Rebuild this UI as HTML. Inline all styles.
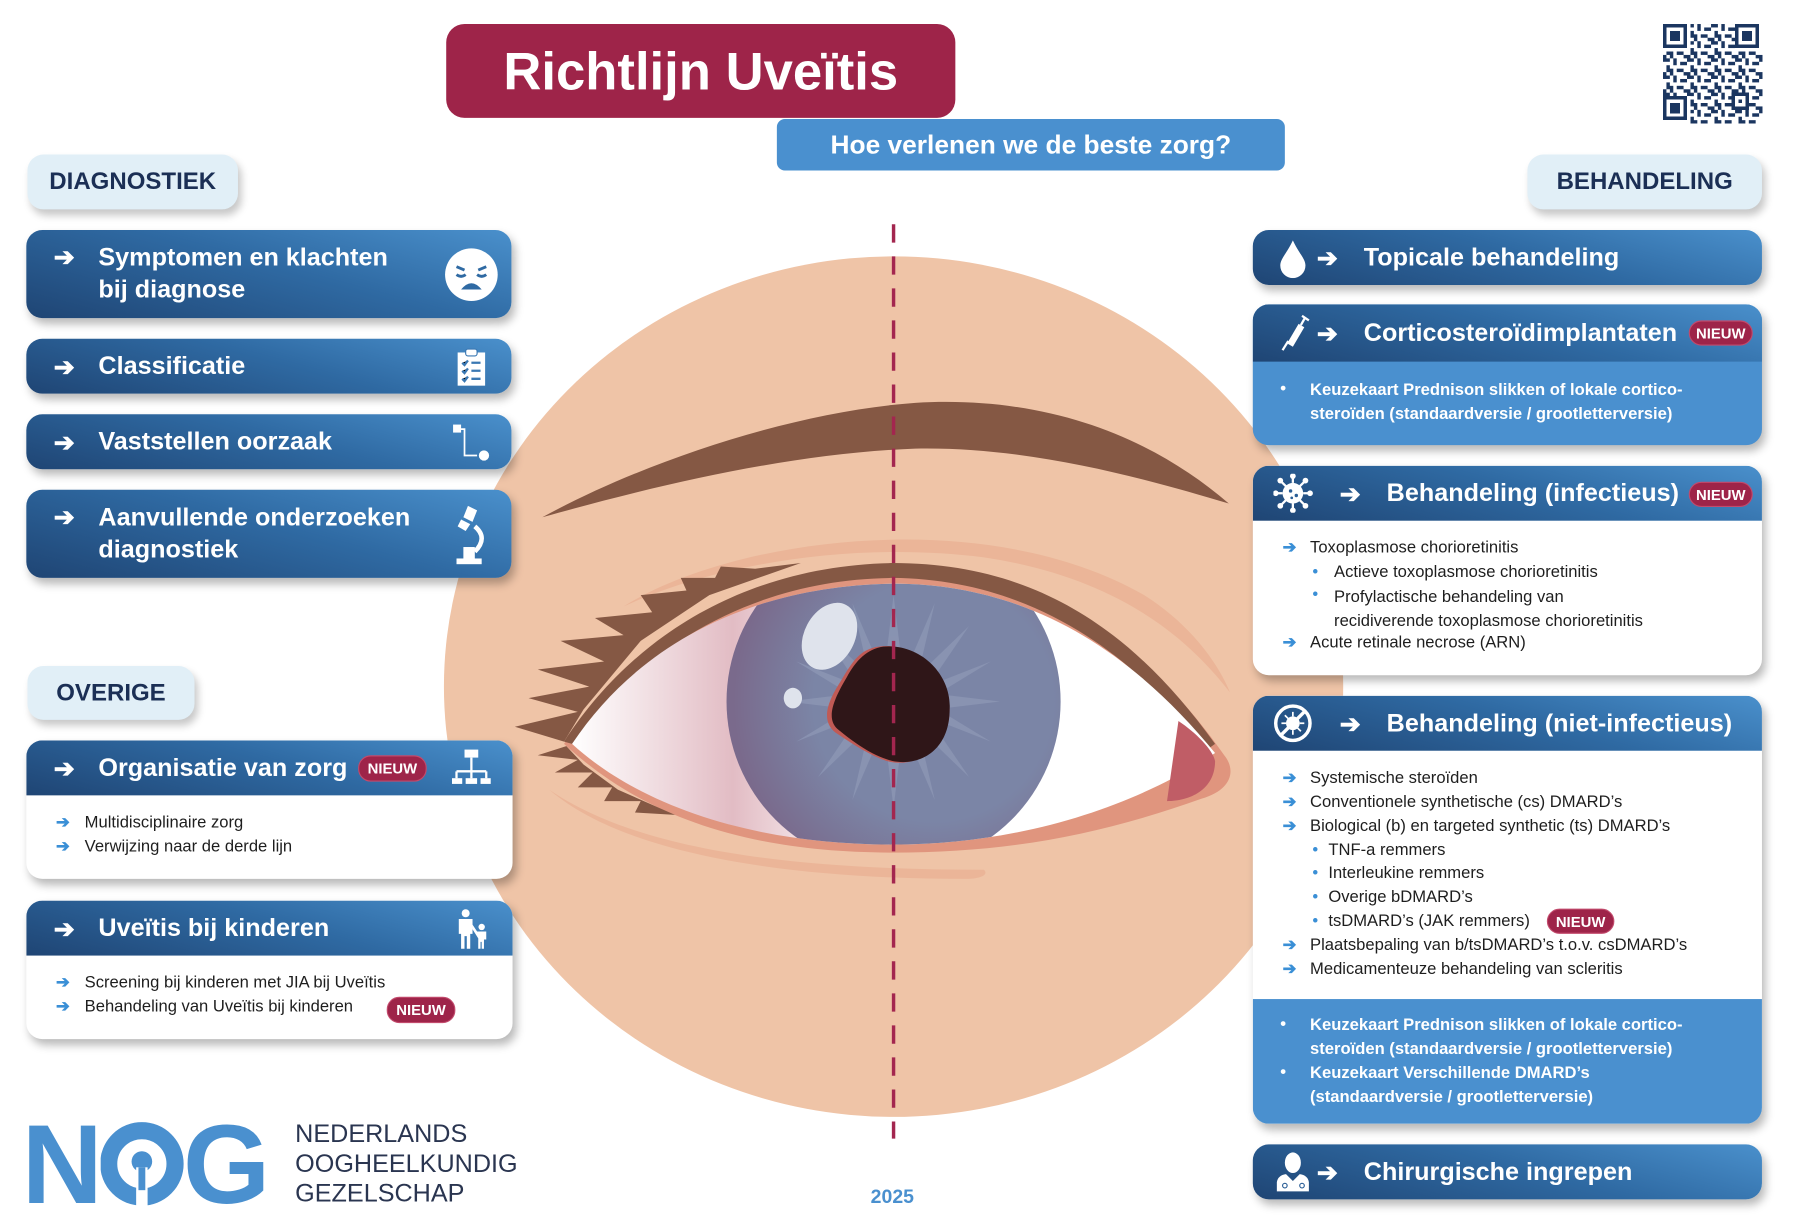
<!DOCTYPE html>
<html><head><meta charset="utf-8">
<style>
*{margin:0;padding:0;box-sizing:border-box}
html,body{width:1794px;height:1228px;overflow:hidden;background:#fff}
#w{position:absolute;left:0;top:0;width:1568px;height:1073px;transform:scale(1.14413,1.1444);transform-origin:0 0;font-family:"Liberation Sans",sans-serif}
.a{position:absolute}
.hd{background:linear-gradient(15deg,#1f4574 0%,#2f6aa3 55%,#4a90cc 100%);color:#fff;font-weight:bold}
.card{position:absolute;border-radius:14px;overflow:hidden;box-shadow:3px 5px 8px rgba(0,0,0,.28)}
.pill{position:absolute;background:#e1eff7;border-radius:14px;color:#1b2f55;font-weight:bold;font-size:21px;box-shadow:3px 5px 7px rgba(0,0,0,.22);display:flex;align-items:center;justify-content:center}
.t{position:absolute;white-space:nowrap}
.nw{position:absolute;background:#9e2449;color:#fff;font-weight:bold;font-size:13px;border-radius:11px;display:flex;align-items:center;justify-content:center;border:1px solid #c24a6c}
.li{position:absolute;white-space:nowrap;font-size:14.5px;color:#1e1e1e}
.ba{color:#3a8fd6;font-weight:bold}
.wl{position:absolute;white-space:nowrap;font-size:14.5px;color:#fff;font-weight:bold}
</style></head><body><div id="w">

<svg class="a" style="left:0;top:0" width="1568" height="1073" viewBox="0 0 1568 1073">
<defs>
<radialGradient id="ir" cx="0.62" cy="0.5" r="0.6"><stop offset="0.6" stop-color="#7b85a6"/><stop offset="1" stop-color="#7a6a8c"/></radialGradient>
<linearGradient id="wh" gradientUnits="userSpaceOnUse" x1="500" y1="0" x2="1062" y2="0"><stop offset="0" stop-color="#fff"/><stop offset="0.25" stop-color="#e2bcc4"/><stop offset="0.45" stop-color="#fff"/><stop offset="1" stop-color="#fff"/></linearGradient>
<clipPath id="eyeclip"><path d="M500,650 C560,560 660,512 780,510 C900,510 990,570 1062,658 C1000,700 900,738 780,738 C660,738 560,705 500,650Z"/></clipPath>
</defs>
<ellipse cx="781" cy="600" rx="393" ry="376" fill="#efc4a7"/>
<path d="M545,530 C640,470 860,440 1000,520 C1040,545 1065,580 1075,605 C1040,560 980,505 860,487 C740,472 620,495 545,530Z" fill="#ebb598"/>
<path d="M480,690 C560,745 700,760 860,760 C865,765 855,768 845,768 C700,768 550,750 480,690Z" fill="#ebb598"/>
<path d="M474,452 C560,405 690,360 800,352 C920,345 1010,385 1074,440 C1000,418 900,390 800,392 C690,396 570,425 474,452Z" fill="#855844"/>
<path d="M493,650 C560,548 665,496 780,494 C905,494 1000,560 1070,660 C1080,672 1078,690 1050,698 C960,730 880,745 780,745 C650,745 560,712 493,650Z" fill="#e0957e"/>
<path d="M493,648 C560,545 665,494 780,492 C905,492 990,550 1062,650 L1055,655 C990,570 900,506 780,505 C670,506 570,555 500,650Z" fill="#855844"/>
<path d="M493,648 L450,635 L505,622 L462,610 L515,600 L470,585 L528,578 L490,560 L545,555 L520,540 L570,535 L560,520 L600,516 L595,505 L625,505 L630,495 L660,497 L700,492 L620,520 L560,560 L510,620Z" fill="#855844"/>
<path d="M495,652 L470,660 L505,664 L485,675 L518,675 L505,688 L535,688 L528,700 L560,700 L555,710 L590,712 L540,690 L510,668Z" fill="#855844"/>
<path d="M500,650 C560,560 660,512 780,510 C900,510 990,570 1062,658 C1000,700 900,738 780,738 C660,738 560,705 500,650Z" fill="url(#wh)"/>
<path d="M1030,630 C1045,640 1060,655 1062,665 C1062,690 1040,700 1020,700 Z" fill="#c05d66"/>
<g clip-path="url(#eyeclip)">
<circle cx="781" cy="613" r="146" fill="url(#ir)"/>
<g fill="#8f99b7" opacity="0.7">
<path d="M781,520 L790,595 L772,595Z"/><path d="M781,706 L790,631 L772,631Z"/>
<path d="M688,613 L763,604 L763,622Z"/><path d="M874,613 L799,604 L799,622Z"/>
<path d="M715,547 L770,600 L758,610Z"/><path d="M847,547 L792,600 L804,610Z"/>
<path d="M715,679 L770,626 L758,616Z"/><path d="M847,679 L792,626 L804,616Z"/>
<path d="M745,527 L775,597 L762,600Z"/><path d="M817,527 L787,597 L800,600Z"/>
<path d="M745,699 L775,629 L762,626Z"/><path d="M817,699 L787,629 L800,626Z"/>
<path d="M696,578 L765,605 L760,617Z"/><path d="M866,578 L797,605 L802,617Z"/>
<path d="M696,648 L765,621 L760,609Z"/><path d="M866,648 L797,621 L802,609Z"/>
</g>
</g>
<path d="M768,565 C800,560 830,590 830,620 C830,655 800,672 775,665 C760,660 745,650 730,640 C718,630 722,615 735,595 C745,578 752,567 768,565Z" fill="#c05a55"/>
<path d="M772,565 C805,562 832,590 830,620 C830,655 805,670 780,665 C762,660 748,650 732,637 C722,628 728,612 740,592 C748,577 758,567 772,565Z" fill="#2f1618"/>
<ellipse cx="725" cy="556" rx="22" ry="31" transform="rotate(28 725 556)" fill="#dfe3ec"/>
<ellipse cx="693" cy="610" rx="8" ry="9" fill="#dfe3ec"/>
<line x1="781" y1="196" x2="781" y2="995" stroke="#a3264f" stroke-width="3" stroke-dasharray="16 12"/>
</svg>

<div class="a" style="left:390px;top:21px;width:445px;height:82px;background:#9e2449;border-radius:16px;color:#fff;font-weight:bold;font-size:46px;display:flex;align-items:center;justify-content:center">Richtlijn Uveïtis</div>
<div class="a" style="left:679px;top:104px;width:444px;height:45px;background:#4a90cf;border-radius:7px;color:#fff;font-weight:bold;font-size:23px;display:flex;align-items:center;justify-content:center">Hoe verlenen we de beste zorg?</div>

<svg class="a" style="left:1453px;top:21px" width="88" height="87" viewBox="0 0 29 29" shape-rendering="crispEdges">
<defs><pattern id="qp" width="7" height="5" patternUnits="userSpaceOnUse">
<rect x="0" y="0" width="2" height="1" fill="#1b3660"/><rect x="3" y="0" width="1" height="2" fill="#1b3660"/><rect x="5" y="1" width="2" height="1" fill="#1b3660"/><rect x="1" y="2" width="1" height="2" fill="#1b3660"/><rect x="4" y="3" width="2" height="1" fill="#1b3660"/><rect x="0" y="4" width="1" height="1" fill="#1b3660"/><rect x="2" y="3" width="1" height="2" fill="#1b3660"/><rect x="6" y="4" width="1" height="1" fill="#1b3660"/>
</pattern></defs>
<rect width="29" height="29" fill="url(#qp)"/>
<g fill="#fff"><rect x="0" y="0" width="8" height="8"/><rect x="21" y="0" width="8" height="8"/><rect x="0" y="21" width="8" height="8"/></g>
<g fill="none" stroke="#1b3660"><rect x="0.5" y="0.5" width="6" height="6"/><rect x="21.5" y="0.5" width="6" height="6"/><rect x="0.5" y="21.5" width="6" height="6"/></g>
<g fill="#1b3660"><rect x="2" y="2" width="3" height="3"/><rect x="23" y="2" width="3" height="3"/><rect x="2" y="23" width="3" height="3"/><rect x="20" y="20" width="5" height="5"/></g>
<rect x="21" y="21" width="3" height="3" fill="#fff"/><rect x="22" y="22" width="1" height="1" fill="#1b3660"/>
</svg>

<div class="pill" style="left:24px;top:135px;width:184px;height:48px">DIAGNOSTIEK</div>
<div class="pill" style="left:24px;top:582px;width:146px;height:47px">OVERIGE</div>
<div class="pill" style="left:1335px;top:135px;width:205px;height:48px">BEHANDELING</div>

<div class="card hd" style="left:23px;top:201px;width:424px;height:77px">
 <div class="t" style="left:24px;top:11px;font-size:22px">➔</div>
 <div class="t" style="left:63px;top:10px;font-size:22px;line-height:28px">Symptomen en klachten<br>bij diagnose</div>
 <svg class="a" style="left:365px;top:15px" width="48" height="48" viewBox="0 0 48 48"><circle cx="24" cy="24" r="23" fill="#fff"/><path d="M11,17 L18,20 M37,17 L30,20" stroke="#2f6aa3" stroke-width="2.5"/><path d="M11,24 Q15,27 19,24 M29,24 Q33,27 37,24" stroke="#2f6aa3" stroke-width="2.5" fill="none"/><path d="M15,37 Q24,26 33,37Z" fill="#2f6aa3"/></svg>
</div>
<div class="card hd" style="left:23px;top:296px;width:424px;height:48px">
 <div class="t" style="left:24px;top:12px;font-size:22px">➔</div>
 <div class="t" style="left:63px;top:11px;font-size:22px">Classificatie</div>
 <svg class="a" style="left:375px;top:8px" width="28" height="34" viewBox="0 0 28 34"><rect x="2" y="4" width="24" height="29" fill="#fff"/><rect x="9" y="1" width="10" height="6" rx="2" fill="#fff" stroke="#3a78b3"/><g stroke="#3a78b3" stroke-width="2"><path d="M6,13 L8,15 L11,11 M14,13 H22 M6,20 L8,22 L11,18 M14,20 H22 M6,27 L8,29 L11,25 M14,27 H22"/></g></svg>
</div>
<div class="card hd" style="left:23px;top:362px;width:424px;height:48px">
 <div class="t" style="left:24px;top:12px;font-size:22px">➔</div>
 <div class="t" style="left:63px;top:11px;font-size:22px">Vaststellen oorzaak</div>
 <svg class="a" style="left:372px;top:8px" width="36" height="34" viewBox="0 0 36 34"><rect x="1" y="1" width="7" height="7" fill="#fff"/><path d="M5,5 H11 V28 H22" stroke="#fff" stroke-width="1.5" fill="none"/><circle cx="28" cy="28" r="4.5" fill="#fff"/></svg>
</div>
<div class="card hd" style="left:23px;top:428px;width:424px;height:77px">
 <div class="t" style="left:24px;top:11px;font-size:22px">➔</div>
 <div class="t" style="left:63px;top:10px;font-size:22px;line-height:28px">Aanvullende onderzoeken<br>diagnostiek</div>
 <svg class="a" style="left:372px;top:12px" width="34" height="56" viewBox="0 0 34 56"><path d="M14,2 L22,6 L18,16 L10,12Z M8,14 L16,18 L12,24 L5,20Z" fill="#fff"/><path d="M20,20 Q32,30 20,42" stroke="#fff" stroke-width="4" fill="none"/><rect x="10" y="38" width="10" height="12" fill="#fff"/><rect x="4" y="48" width="22" height="5" fill="#fff"/></svg>
</div>

<div class="card" style="left:23px;top:647px;width:425px;height:121px;background:#fff">
 <div class="hd a" style="left:0;top:0;width:425px;height:48px">
  <div class="t" style="left:24px;top:12px;font-size:22px">➔</div>
  <div class="t" style="left:63px;top:11px;font-size:22px">Organisatie van zorg</div>
  <div class="nw" style="left:290px;top:13px;width:60px;height:23px">NIEUW</div>
  <svg class="a" style="left:372px;top:7px" width="34" height="34" viewBox="0 0 34 34"><rect x="11" y="1" width="12" height="7" fill="#fff"/><path d="M17,8 V20 M4,20 H30 M4,20 V26 M17,20 V26 M30,20 V26" stroke="#fff" stroke-width="2" fill="none"/><rect x="0" y="26" width="9" height="5" fill="#fff"/><rect x="12" y="26" width="10" height="5" fill="#fff"/><rect x="25" y="26" width="9" height="5" fill="#fff"/></svg>
 </div>
 <div class="li" style="left:26px;top:64px"><span class="ba">➔</span></div><div class="li" style="left:51px;top:64px">Multidisciplinaire zorg</div>
 <div class="li" style="left:26px;top:85px"><span class="ba">➔</span></div><div class="li" style="left:51px;top:85px">Verwijzing naar de derde lijn</div>
</div>

<div class="card" style="left:23px;top:787px;width:425px;height:121px;background:#fff">
 <div class="hd a" style="left:0;top:0;width:425px;height:48px">
  <div class="t" style="left:24px;top:12px;font-size:22px">➔</div>
  <div class="t" style="left:63px;top:11px;font-size:22px">Uveïtis bij kinderen</div>
  <svg class="a" style="left:375px;top:7px" width="30" height="36" viewBox="0 0 30 36"><circle cx="9" cy="4" r="3.5" fill="#fff"/><path d="M3,9 H15 V22 H13 V35 H10 V24 H8 V35 H5 V22 H3Z" fill="#fff"/><circle cx="23" cy="16" r="2.8" fill="#fff"/><path d="M15,14 L19,20 H27 V27 H25 V35 H23 V29 H22 V35 H20 V26 L15,18Z" fill="#fff"/></svg>
 </div>
 <div class="li" style="left:26px;top:64px"><span class="ba">➔</span></div><div class="li" style="left:51px;top:64px">Screening bij kinderen met JIA bij Uveïtis</div>
 <div class="li" style="left:26px;top:85px"><span class="ba">➔</span></div><div class="li" style="left:51px;top:85px">Behandeling van Uveïtis bij kinderen</div>
 <div class="nw" style="left:315px;top:84px;width:60px;height:23px">NIEUW</div>
</div>

<div class="t" style="left:19px;top:962px;font-size:98px;font-weight:bold;color:#4a90cf;line-height:110px">N</div>
<svg class="a" style="left:88px;top:980px" width="74" height="76" viewBox="0 0 74 76"><circle cx="36" cy="37" r="29" fill="none" stroke="#4a90cf" stroke-width="15"/><circle cx="36" cy="35" r="9" fill="#4a90cf"/><rect x="31" y="40" width="10" height="36" fill="#fff"/><rect x="33" y="40" width="6" height="20" fill="#4a90cf"/></svg>
<div class="t" style="left:160px;top:962px;font-size:98px;font-weight:bold;color:#4a90cf;line-height:110px">G</div>
<div class="t" style="left:258px;top:978px;font-size:22px;line-height:26px;color:#2a3550">NEDERLANDS<br>OOGHEELKUNDIG<br>GEZELSCHAP</div>
<div class="t" style="left:761px;top:1036px;font-size:17px;font-weight:bold;color:#4a90cf">2025</div>

<div class="card hd" style="left:1095px;top:201px;width:445px;height:48px">
 <svg class="a" style="left:22px;top:8px" width="26" height="34" viewBox="0 0 26 34"><path d="M13,1 C18,12 24,17 24,23 A11,11 0 0 1 2,23 C2,17 8,12 13,1Z" fill="#fff"/></svg>
 <div class="t" style="left:56px;top:12px;font-size:22px">➔</div>
 <div class="t" style="left:97px;top:11px;font-size:22px">Topicale behandeling</div>
</div>

<div class="card" style="left:1095px;top:266px;width:445px;height:123px;background:#4a90cf">
 <div class="hd a" style="left:0;top:0;width:445px;height:50px">
  <svg class="a" style="left:22px;top:8px" width="28" height="34" viewBox="0 0 28 34"><path d="M4,32 L9,24" stroke="#fff" stroke-width="2"/><path d="M8,26 L18,9 L23,12 L13,29Z" fill="#fff"/><path d="M20,10 L24,3 M21,2 L27,6" stroke="#fff" stroke-width="2"/></svg>
  <div class="t" style="left:56px;top:13px;font-size:22px">➔</div>
  <div class="t" style="left:97px;top:12px;font-size:22px">Corticosteroïdimplantaten</div>
  <div class="nw" style="left:381px;top:14px;width:56px;height:22px">NIEUW</div>
 </div>
 <div class="wl" style="left:24px;top:66px">•</div>
 <div class="wl" style="left:50px;top:65px;line-height:21px">Keuzekaart Prednison slikken of lokale cortico-<br>steroïden (standaardversie / grootletterversie)</div>
</div>

<div class="card" style="left:1095px;top:407px;width:445px;height:183px;background:#fff">
 <div class="hd a" style="left:0;top:0;width:445px;height:48px">
  <svg class="a" style="left:18px;top:7px" width="36" height="34" viewBox="0 0 36 34"><circle cx="17" cy="17" r="9" fill="#fff"/><g stroke="#fff" stroke-width="2"><path d="M17,8 V2 M17,26 V32 M8,17 H2 M26,17 H32 M11,11 L6,6 M23,11 L28,6 M11,23 L6,28 M23,23 L28,28"/></g><g fill="#fff"><circle cx="17" cy="2" r="2.5"/><circle cx="17" cy="32" r="2.5"/><circle cx="2" cy="17" r="2.5"/><circle cx="32" cy="17" r="2.5"/><circle cx="6" cy="6" r="2.5"/><circle cx="28" cy="6" r="2.5"/><circle cx="6" cy="28" r="2.5"/><circle cx="28" cy="28" r="2.5"/></g><g fill="#2a5e96"><circle cx="15" cy="15" r="1.5"/><circle cx="20" cy="19" r="1.5"/><circle cx="16" cy="21" r="1.2"/></g></svg>
  <div class="t" style="left:76px;top:12px;font-size:22px">➔</div>
  <div class="t" style="left:117px;top:11px;font-size:22px">Behandeling (infectieus)</div>
  <div class="nw" style="left:381px;top:14px;width:56px;height:22px">NIEUW</div>
 </div>
 <div class="li" style="left:26px;top:64px"><span class="ba">➔</span></div><div class="li" style="left:50px;top:64px">Toxoplasmose chorioretinitis</div>
 <div class="li" style="left:52px;top:85px;color:#3a8fd6">•</div><div class="li" style="left:71px;top:85px">Actieve toxoplasmose chorioretinitis</div>
 <div class="li" style="left:52px;top:105px;color:#3a8fd6">•</div><div class="li" style="left:71px;top:105px;line-height:21px">Profylactische behandeling van<br>recidiverende toxoplasmose chorioretinitis</div>
 <div class="li" style="left:26px;top:147px"><span class="ba">➔</span></div><div class="li" style="left:50px;top:147px">Acute retinale necrose (ARN)</div>
</div>

<div class="card" style="left:1095px;top:608px;width:445px;height:374px;background:#fff">
 <div class="hd a" style="left:0;top:0;width:445px;height:48px">
  <svg class="a" style="left:18px;top:7px" width="34" height="34" viewBox="0 0 34 34"><circle cx="17" cy="17" r="15" fill="none" stroke="#fff" stroke-width="3"/><circle cx="17" cy="17" r="6" fill="#fff"/><g stroke="#fff" stroke-width="1.5"><path d="M17,7 V11 M17,23 V27 M7,17 H11 M23,17 H27 M10,10 L13,13 M24,24 L21,21 M24,10 L21,13 M10,24 L13,21"/></g><path d="M7,27 L27,7" stroke="#fff" stroke-width="3"/></svg>
  <div class="t" style="left:76px;top:12px;font-size:22px">➔</div>
  <div class="t" style="left:117px;top:11px;font-size:22px">Behandeling (niet-infectieus)</div>
 </div>
 <div class="li" style="left:26px;top:64px"><span class="ba">➔</span></div><div class="li" style="left:50px;top:64px">Systemische steroïden</div>
 <div class="li" style="left:26px;top:85px"><span class="ba">➔</span></div><div class="li" style="left:50px;top:85px">Conventionele synthetische (cs) DMARD’s</div>
 <div class="li" style="left:26px;top:106px"><span class="ba">➔</span></div><div class="li" style="left:50px;top:106px">Biological (b) en targeted synthetic (ts) DMARD’s</div>
 <div class="li" style="left:52px;top:127px;color:#3a8fd6">•</div><div class="li" style="left:66px;top:127px">TNF-a remmers</div>
 <div class="li" style="left:52px;top:147px;color:#3a8fd6">•</div><div class="li" style="left:66px;top:147px">Interleukine remmers</div>
 <div class="li" style="left:52px;top:168px;color:#3a8fd6">•</div><div class="li" style="left:66px;top:168px">Overige bDMARD’s</div>
 <div class="li" style="left:52px;top:189px;color:#3a8fd6">•</div><div class="li" style="left:66px;top:189px">tsDMARD’s (JAK remmers)</div>
 <div class="nw" style="left:257px;top:186px;width:59px;height:22px">NIEUW</div>
 <div class="li" style="left:26px;top:210px"><span class="ba">➔</span></div><div class="li" style="left:50px;top:210px">Plaatsbepaling van b/tsDMARD’s t.o.v. csDMARD’s</div>
 <div class="li" style="left:26px;top:231px"><span class="ba">➔</span></div><div class="li" style="left:50px;top:231px">Medicamenteuze behandeling van scleritis</div>
 <div class="a" style="left:0;top:265px;width:445px;height:109px;background:#4a90cf"></div>
 <div class="wl" style="left:24px;top:279px">•</div>
 <div class="wl" style="left:50px;top:278px;line-height:21px">Keuzekaart Prednison slikken of lokale cortico-<br>steroïden (standaardversie / grootletterversie)</div>
 <div class="wl" style="left:24px;top:321px">•</div>
 <div class="wl" style="left:50px;top:320px;line-height:21px">Keuzekaart Verschillende DMARD’s<br>(standaardversie / grootletterversie)</div>
</div>

<div class="card hd" style="left:1095px;top:1000px;width:445px;height:48px">
 <svg class="a" style="left:20px;top:6px" width="30" height="36" viewBox="0 0 30 36"><ellipse cx="15" cy="10" rx="7" ry="9" fill="#fff"/><path d="M1,35 V27 Q2,21 9,20 L15,26 L21,20 Q28,21 29,27 V35Z" fill="#fff"/><circle cx="8" cy="30" r="2" fill="none" stroke="#2a5e96"/><circle cx="23" cy="30" r="2" fill="none" stroke="#2a5e96"/></svg>
 <div class="t" style="left:56px;top:12px;font-size:22px">➔</div>
 <div class="t" style="left:97px;top:11px;font-size:22px">Chirurgische ingrepen</div>
</div>

</div></body></html>
